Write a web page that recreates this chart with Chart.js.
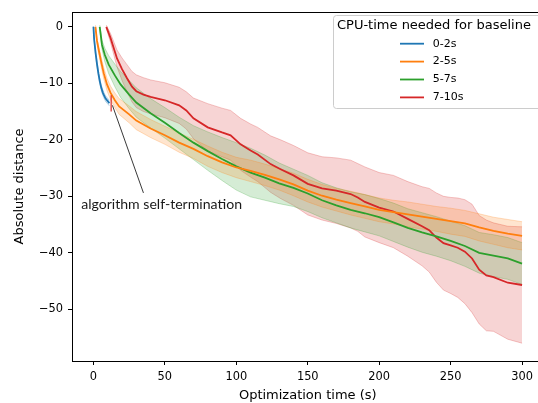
<!DOCTYPE html>
<html>
<head>
<meta charset="utf-8">
<script src="https://cdn.jsdelivr.net/npm/chart.js@4.4.1/dist/chart.umd.min.js"></script>
<style>
    html, body { margin: 0; padding: 0; background: #fff; overflow: hidden; }
    #wrap { width: 538px; height: 403px; overflow: hidden; }
    canvas { display: block; }
</style>
</head>
<body>
<div id="wrap"><canvas id="chart" width="545" height="403"></canvas></div>
<script>
// CPU-time groups (legend labels)
const groupLabels = ["0-2s", "2-5s", "5-7s", "7-10s"];

// 0-2s
const blueTime = [0, 0.5, 1.5, 2.5, 3.5, 4.5, 5.5, 6.5, 7.5, 8.5, 9.5, 10.5, 11.2];
const blueMean = [0, -2.2, -4.6, -6.6, -8.3, -9.7, -10.8, -11.6, -12.2, -12.7, -13.0, -13.3, -13.5];
const blueSd = [0.1, 0.3, 0.4, 0.5, 0.5, 0.5, 0.5, 0.5, 0.5, 0.5, 0.5, 0.5, 0.5];

// 2-5s
const orangeTime = [1.4, 2.5, 3.7, 5.5, 7.2, 9.5, 12, 15, 18, 25, 30, 40, 50, 60, 70, 80, 90, 100, 110, 120,
    130, 140, 150, 160, 170, 180, 190, 200, 210, 220, 230, 240, 250, 260, 270, 280, 290, 300];
const orangeMean = [0, -2.5, -4.1, -6.3, -8.2, -10.2, -11.7, -13.0, -14.1, -15.5, -16.6, -18.0, -19.2, -20.5,
    -21.6, -22.9, -24.0, -24.9, -25.5, -26.2, -27.0, -27.9, -29.0, -29.9, -30.6, -31.2, -31.8, -32.4, -32.8,
    -33.2, -33.6, -34.0, -34.4, -34.8, -35.5, -36.1, -36.6, -37.0];
const orangeSd = [0.3, 0.5, 0.7, 0.9, 1.0, 1.1, 1.2, 1.3, 1.4, 1.5, 1.6, 1.6, 1.6, 1.7, 1.7, 1.8, 1.8, 1.8,
    1.9, 1.9, 1.9, 2.0, 2.0, 2.0, 2.0, 2.1, 2.1, 2.1, 2.1, 2.2, 2.2, 2.2, 2.3, 2.3, 2.4, 2.4, 2.5, 2.5];

// 5-7s
const greenTime = [4.4, 6, 8, 10.7, 15, 19, 25, 30, 40, 50, 60, 70, 80, 90, 100, 110, 120, 130, 140, 150,
    160, 170, 180, 190, 200, 210, 220, 230, 240, 250, 260, 270, 280, 290, 300];
const greenMean = [0, -3.2, -5.0, -6.7, -8.6, -10.2, -12.0, -13.4, -15.3, -17.0, -18.8, -20.5, -22.0, -23.4,
    -24.7, -25.8, -26.7, -27.7, -28.5, -29.5, -30.7, -31.6, -32.4, -33.0, -33.7, -34.6, -35.6, -36.4, -37.1,
    -37.9, -38.8, -40.0, -40.5, -41.0, -41.9];
const greenSd = [0.3, 0.8, 1.2, 1.6, 2.0, 2.3, 2.5, 2.6, 2.6, 2.7, 2.8, 3.0, 3.4, 3.8, 4.2, 4.3, 4.0, 3.6,
    3.3, 3.2, 3.1, 3.1, 3.2, 3.3, 3.3, 3.4, 3.4, 3.5, 3.5, 3.5, 3.6, 3.6, 3.7, 3.7, 3.7];

// 7-10s
const redTime = [9, 12, 16.5, 20, 23.5, 27, 30, 35, 40, 50, 60, 65, 70, 80, 90, 96, 103, 110, 115, 124, 131,
    140, 150, 160, 170, 180, 185, 190, 200, 210, 220, 230, 235, 240, 245, 250, 255, 260, 265, 270, 275, 280,
    290, 300];
const redMean = [0, -2.0, -5.6, -7.5, -9.1, -10.6, -11.4, -12.0, -12.4, -13.0, -13.9, -14.8, -16.2, -17.8,
    -18.7, -19.2, -20.8, -21.9, -22.6, -24.3, -25.2, -26.3, -27.8, -28.6, -29.0, -29.6, -30.2, -31.0, -32.0,
    -32.7, -34.0, -35.3, -36.0, -37.3, -38.3, -38.7, -39.1, -39.8, -41.0, -43.0, -44.0, -44.3, -45.3, -45.7];
const redSd = [0.3, 0.8, 1.5, 2.0, 2.4, 2.7, 2.9, 3.0, 3.0, 3.1, 3.2, 3.3, 3.6, 4.2, 4.3, 4.4, 4.6, 4.7,
    4.8, 5.0, 5.2, 5.3, 5.5, 5.6, 5.8, 6.0, 6.0, 6.2, 6.2, 6.4, 6.6, 7.0, 7.4, 7.9, 8.3, 8.5, 8.8, 9.2, 9.6,
    9.6, 9.8, 9.6, 10.0, 10.3];

// red mark where the 0-2s runs stop
const terminationTime = [12.4, 12.4];
const terminationValue = [-12.1, -15.0];

const xTicks = [0, 50, 100, 150, 200, 250, 300];
const yTicks = [0, -10, -20, -30, -40, -50];

const annotationText = "algorithm self-termination";
const arrowFrom = [13.3, -13.9];
const arrowTo = [35.0, -29.4];
const textAt = [-8.6, -32.3];

const groups = [
    { time: blueTime, mean: blueMean, sd: blueSd, rgb: "31, 119, 180" },
    { time: orangeTime, mean: orangeMean, sd: orangeSd, rgb: "255, 127, 14" },
    { time: greenTime, mean: greenMean, sd: greenSd, rgb: "44, 160, 44" },
    { time: redTime, mean: redMean, sd: redSd, rgb: "214, 39, 40" },
];

function toPoints(time, values) {
    return time.map((t, i) => ({ x: t, y: values[i] }));
}

const datasets = [];
groups.forEach((g) => {
    const upper = g.mean.map((m, i) => m + g.sd[i]);
    const lower = g.mean.map((m, i) => m - g.sd[i]);
    datasets.push({
        data: toPoints(g.time, upper),
        borderColor: `rgba(${g.rgb}, 0.25)`,
        borderWidth: 1,
        backgroundColor: `rgba(${g.rgb}, 0.2)`,
        fill: "+1",
        pointRadius: 0,
        order: 3,
    });
    datasets.push({
        data: toPoints(g.time, lower),
        borderColor: `rgba(${g.rgb}, 0.25)`,
        borderWidth: 1,
        fill: false,
        pointRadius: 0,
        order: 3,
    });
});
groups.forEach((g, i) => {
    datasets.push({
        label: groupLabels[i],
        data: toPoints(g.time, g.mean),
        borderColor: `rgb(${g.rgb})`,
        borderWidth: 1.8,
        fill: false,
        pointRadius: 0,
        order: 1,
    });
});
datasets.push({
    data: toPoints(terminationTime, terminationValue),
    borderColor: "rgb(214, 39, 40)",
    borderWidth: 1.2,
    fill: false,
    pointRadius: 0,
    order: 0,
});

const tickFont = { family: "DejaVu Sans", size: 11.4 };

const framePlugin = {
    id: "frame",
    afterDatasetsDraw(chart) {
        const { ctx, chartArea: a } = chart;
        ctx.save();
        ctx.strokeStyle = "#000";
        ctx.lineWidth = 1;
        ctx.strokeRect(Math.round(a.left) + 0.5, Math.round(a.top) + 0.5,
            Math.round(a.right - a.left), Math.round(a.bottom - a.top));
        ctx.restore();
    },
};

const annotationPlugin = {
    id: "selfTermination",
    afterDatasetsDraw(chart) {
        const { ctx, scales: { x, y } } = chart;
        ctx.save();
        ctx.strokeStyle = "#222";
        ctx.lineWidth = 0.9;
        ctx.beginPath();
        ctx.moveTo(x.getPixelForValue(arrowFrom[0]), y.getPixelForValue(arrowFrom[1]));
        ctx.lineTo(x.getPixelForValue(arrowTo[0]), y.getPixelForValue(arrowTo[1]));
        ctx.stroke();

        // fit the Calibri-like text to the width seen in the figure
        ctx.font = "13px Lato";
        const size = 13 * 161 / ctx.measureText(annotationText).width;
        ctx.font = `${size.toFixed(2)}px Lato`;
        ctx.fillStyle = "#1a1a1a";
        ctx.textBaseline = "alphabetic";
        ctx.textAlign = "left";
        ctx.fillText(annotationText, x.getPixelForValue(textAt[0]), y.getPixelForValue(textAt[1]));
        ctx.restore();
    },
};

const legendPlugin = {
    id: "boxLegend",
    afterDraw(chart) {
        const { ctx } = chart;
        const lineDatasets = chart.data.datasets.filter((d) => d.label);
        ctx.save();
        ctx.beginPath();
        ctx.roundRect(333.5, 15.5, 215, 93, 3);
        ctx.fillStyle = "rgba(255, 255, 255, 0.8)";
        ctx.fill();
        ctx.strokeStyle = "#cccccc";
        ctx.lineWidth = 1;
        ctx.stroke();

        ctx.fillStyle = "#000";
        ctx.textBaseline = "middle";
        ctx.textAlign = "left";
        ctx.font = "13px 'DejaVu Sans'";
        ctx.fillText("CPU-time needed for baseline", 337, 25.5);

        ctx.font = "11px 'DejaVu Sans'";
        lineDatasets.forEach((d, i) => {
            const yRow = 43.7 + i * 17.9;
            ctx.strokeStyle = d.borderColor;
            ctx.lineWidth = 1.8;
            ctx.beginPath();
            ctx.moveTo(400, yRow);
            ctx.lineTo(424, yRow);
            ctx.stroke();
            ctx.fillStyle = "#000";
            ctx.fillText(d.label, 432.7, yRow);
        });
        ctx.restore();
    },
};

new Chart(document.getElementById("chart"), {
    type: "line",
    data: { datasets },
    options: {
        responsive: false,
        animation: false,
        devicePixelRatio: 1,
        layout: { padding: { left: 0, right: 1.5, top: 10, bottom: 0 } },
        elements: { line: { tension: 0 } },
        plugins: {
            legend: { display: false },
            tooltip: { enabled: false },
        },
        scales: {
            x: {
                type: "linear",
                min: -15,
                max: 315,
                afterBuildTicks: (s) => { s.ticks = xTicks.map((v) => ({ value: v })); },
                afterFit: (s) => { s.height = 42; },
                ticks: { font: tickFont, color: "#000", padding: 5, maxRotation: 0 },
                grid: { drawOnChartArea: false, tickLength: 4, tickColor: "#000", tickWidth: 1 },
                border: { display: false },
                title: {
                    display: true,
                    text: "Optimization time (s)",
                    font: { family: "DejaVu Sans", size: 13 },
                    color: "#000",
                    padding: { top: 0, bottom: 0 },
                },
            },
            y: {
                type: "linear",
                min: -59.15,
                max: 2.65,
                afterBuildTicks: (s) => { s.ticks = yTicks.map((v) => ({ value: v })); },
                afterFit: (s) => { s.width = 72; },
                ticks: {
                    font: tickFont,
                    color: "#000",
                    padding: 5,
                    callback: (v) => (v === 0 ? "0" : "\u2212" + Math.abs(v)),
                },
                grid: { drawOnChartArea: false, tickLength: 4, tickColor: "#000", tickWidth: 1 },
                border: { display: false },
                title: {
                    display: true,
                    text: "Absolute distance",
                    font: { family: "DejaVu Sans", size: 13 },
                    color: "#000",
                    padding: { top: 12, bottom: 0 },
                },
            },
        },
    },
    plugins: [framePlugin, annotationPlugin, legendPlugin],
});
</script>
</body>
</html>
